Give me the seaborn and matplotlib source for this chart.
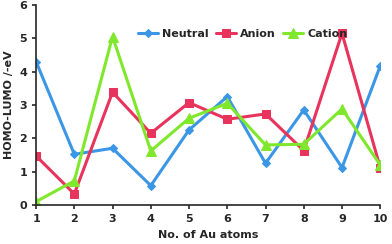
import matplotlib
matplotlib.use("Agg")
import matplotlib.pyplot as plt
import seaborn as sns
import pandas as pd

# Données
atoms = [1, 2, 3, 4, 5, 6, 7, 8, 9, 10]
neutral = [4.30, 1.52, 1.70, 0.58, 2.25, 3.25, 1.25, 2.85, 1.12, 4.17]
anion = [1.47, 0.33, 3.38, 2.15, 3.07, 2.57, 2.73, 1.63, 5.15, 1.12]
cation = [0.10, 0.72, 5.05, 1.62, 2.60, 3.05, 1.80, 1.82, 2.88, 1.20]

df = pd.DataFrame({"atoms": atoms * 3,
                   "gap": neutral + anion + cation,
                   "state": ["Neutral"] * 10 + ["Anion"] * 10 + ["Cation"] * 10})

sns.set_style("ticks")
plt.rcParams['font.family'] = ['DejaVu Sans']

fig = plt.figure(figsize=(3.92, 2.44), dpi=100)
ax = fig.add_axes([0.092, 0.16, 0.878, 0.82])

palette = {"Neutral": "#3b97e6", "Anion": "#e8335c", "Cation": "#80e82c"}
markers = {"Neutral": "D", "Anion": "s", "Cation": "^"}
sizes = {"Neutral": 4.5, "Anion": 6, "Cation": 6.5}

for state in ["Neutral", "Anion", "Cation"]:
    sub = df[df["state"] == state]
    sns.lineplot(data=sub, x="atoms", y="gap", ax=ax, color=palette[state],
                 marker=markers[state], markersize=sizes[state],
                 markeredgecolor=palette[state], linewidth=2.2, label=state)

ax.set_xlim(1, 10)
ax.set_ylim(0, 6)
ax.set_xticks(atoms)
ax.set_yticks(range(0, 7))
ax.tick_params(labelsize=8, width=1.2, length=3)
for lab in ax.get_xticklabels() + ax.get_yticklabels():
    lab.set_fontweight("bold")
ax.set_xlabel("No. of Au atoms", fontsize=8, fontweight="bold")
ax.set_ylabel("HOMO-LUMO /-eV", fontsize=8, fontweight="bold")
for s in ["left", "bottom"]:
    ax.spines[s].set_linewidth(1.2)
sns.despine(ax=ax)

ax.legend(loc="upper center", bbox_to_anchor=(0.6, 0.93), ncol=3, frameon=False,
          prop={"size": 8, "weight": "bold"}, handlelength=1.8, columnspacing=0.6,
          handletextpad=0.4)

fig.savefig("out.png", dpi=100)
